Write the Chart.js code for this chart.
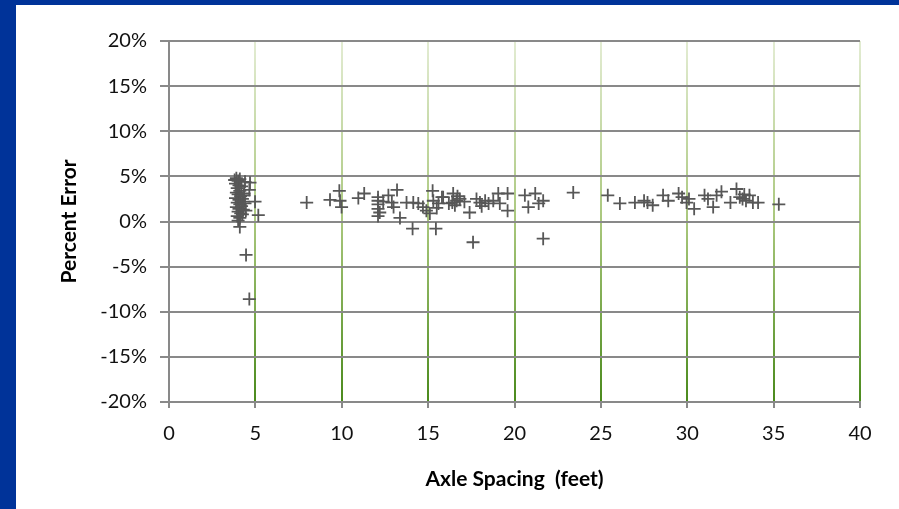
<!DOCTYPE html>
<html lang="en">
<head>
<meta charset="UTF-8">
<title>Axle Spacing vs Percent Error</title>
<script src="https://cdn.jsdelivr.net/npm/chart.js"></script>
<style>
    html, body { margin: 0; padding: 0; background: #ffffff; }
    body { width: 899px; height: 509px; position: relative; overflow: hidden; }
    .frame-left { position: absolute; left: 0; top: 0; width: 16px; height: 509px; background: #003399; }
    .frame-top { position: absolute; left: 0; top: 0; width: 899px; height: 5px; background: #003399; }
    #errChart { position: absolute; left: 0; top: 0; }
</style>
</head>
<body>
<div class="frame-left"></div>
<div class="frame-top"></div>
<canvas id="errChart" width="899" height="509"></canvas>

<script>
// axle spacing (feet) of each measured pair
const axleSpacing = [
    3.8, 3.9, 4.0, 4.1, 3.85, 4.05, 3.95, 4.2, 4.1, 3.9,
    4.0, 4.15, 3.85, 4.05, 4.25, 3.95, 4.1, 4.3, 3.9, 4.05,
    4.2, 4.0, 4.15, 4.3, 3.95, 4.1, 4.25, 4.35, 4.4, 4.45,
    4.0, 4.1, 4.69, 4.65, 4.98, 5.17, 4.46, 4.65, 4.4, 4.35,
    7.97, 9.32, 9.86, 9.9, 9.99, 10.96, 11.3, 12.1, 12.1, 12.1,
    12.1, 12.2, 12.1, 12.7, 12.9, 13.2, 13.0, 13.37, 13.75, 14.14,
    14.1, 14.43, 14.7, 14.9, 15.1, 15.26, 15.3, 15.45, 15.6, 15.87,
    16.2, 15.8, 16.45, 16.65, 16.55, 16.84, 17.4, 17.6, 17.8, 18.0,
    18.3, 18.5, 18.77, 19.06, 19.15, 19.6, 19.6, 20.6, 20.8, 21.2,
    21.4, 21.66, 21.66, 23.4, 16.7, 17.1, 18.1, 16.4, 15.5, 12.4,
    25.4, 26.1, 26.97, 27.5, 27.7, 28.0, 28.6, 28.9, 29.5, 29.7,
    29.96, 30.4, 31.0, 31.2, 31.5, 31.7, 31.98, 32.5, 32.85, 33.04,
    33.2, 33.4, 33.6, 33.8, 34.1, 35.3, 30.1, 33.3
];

// percent error for each pair, same order
const percentError = [
    4.6, 4.8, 4.5, 4.7, 4.2, 4.0, 3.7, 3.9, 3.4, 3.2,
    3.0, 2.8, 2.6, 2.4, 2.5, 2.1, 1.9, 2.2, 1.6, 1.4,
    1.7, 1.1, 0.9, 1.3, 0.6, 0.4, 0.8, 3.1, 2.0, 1.2,
    0.1, -0.6, 4.3, 3.5, 2.2, 0.7, -3.7, -8.6, 4.4, 2.9,
    2.1, 2.4, 3.4, 2.3, 1.6, 2.6, 3.1, 2.7, 2.3, 1.9,
    1.4, 1.0, 0.6, 2.9, 2.1, 3.5, 1.6, 0.4, 2.1, 2.1,
    -0.8, 2.0, 1.6, 1.2, 0.9, 3.4, 2.3, -0.8, 2.0, 2.7,
    2.0, 2.7, 3.1, 2.3, 1.8, 2.5, 1.0, -2.3, 2.5, 2.1,
    2.3, 2.0, 2.3, 3.1, 2.0, 3.1, 1.2, 2.9, 1.6, 3.1,
    2.0, 2.3, -1.9, 3.2, 2.8, 2.2, 1.7, 2.1, 1.5, 2.2,
    2.9, 2.0, 2.1, 2.3, 2.1, 1.8, 2.9, 2.3, 3.1, 2.7,
    2.1, 1.4, 2.9, 2.5, 1.6, 2.9, 3.3, 2.1, 3.6, 2.7,
    2.5, 2.3, 2.9, 2.1, 2.1, 1.9, 2.5, 3.0
];

const xTicks = [0, 5, 10, 15, 20, 25, 30, 35, 40];
const yTicks = [-20, -15, -10, -5, 0, 5, 10, 15, 20];

const points = axleSpacing.map((x, i) => ({ x: x, y: percentError[i] }));

const axisGray = '#898989';
const labelFont = { family: 'Lato', size: 20 };
const titleFont = { family: 'Lato', size: 21, weight: 'bold' };

// vertical grid lines fade from pale to darker green going down
function greenFade(ctx) {
    if (ctx.index === 0) return 'rgba(0,0,0,0)';
    const area = ctx.chart.chartArea;
    if (!area) return '#9bbb59';
    const g = ctx.chart.ctx.createLinearGradient(0, area.top, 0, area.bottom);
    g.addColorStop(0, '#e3ecd3');
    g.addColorStop(0.5, '#a9c77c');
    g.addColorStop(1, '#4a8a1c');
    return g;
}

new Chart(document.getElementById('errChart'), {
    type: 'scatter',
    data: {
        datasets: [{
            data: points,
            pointStyle: 'cross',
            pointRadius: 6.5,
            pointHoverRadius: 6.5,
            pointBorderWidth: 1.8,
            borderColor: '#575757',
            backgroundColor: '#575757',
            showLine: false
        }]
    },
    options: {
        responsive: false,
        animation: false,
        events: [],
        layout: { padding: { left: 52, top: 41, right: 39, bottom: 0 } },
        plugins: {
            legend: { display: false },
            tooltip: { enabled: false }
        },
        scales: {
            x: {
                type: 'linear',
                min: 0,
                max: 40,
                afterFit: s => { s.height = 107; },
                afterBuildTicks: s => { s.ticks = xTicks.map(v => ({ value: v })); },
                grid: {
                    color: greenFade,
                    lineWidth: 2,
                    tickColor: axisGray,
                    tickLength: 6,
                    drawTicks: true
                },
                border: { display: true, color: axisGray, width: 2 },
                ticks: { font: labelFont, color: '#111111', padding: 14 },
                title: {
                    display: true,
                    text: 'Axle Spacing  (feet)',
                    font: titleFont,
                    color: '#000000',
                    padding: { top: 0, bottom: 17 }
                }
            },
            y: {
                type: 'linear',
                min: -20,
                max: 20,
                afterFit: s => { s.width = 117; },
                afterBuildTicks: s => { s.ticks = yTicks.map(v => ({ value: v })); },
                grid: {
                    color: axisGray,
                    lineWidth: 2,
                    tickColor: axisGray,
                    tickLength: 9,
                    drawTicks: true
                },
                border: { display: true, color: axisGray, width: 2 },
                ticks: {
                    font: labelFont,
                    color: '#111111',
                    padding: 13,
                    callback: v => v + '%'
                },
                title: {
                    display: true,
                    text: 'Percent Error',
                    font: titleFont,
                    color: '#000000',
                    padding: { top: 5, bottom: 0 }
                }
            }
        }
    }
});
</script>
</body>
</html>
